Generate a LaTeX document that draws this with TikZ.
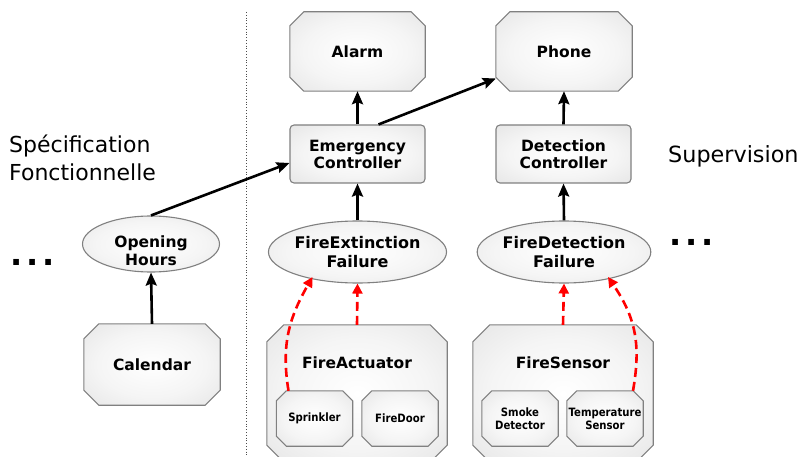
\documentclass[tikz,border=0pt]{standalone}
\usepackage{fontspec}
\setmainfont{DejaVu Sans}
\newfontfamily\smallcond[FakeStretch=0.88]{DejaVu Sans}
\usetikzlibrary{shapes.geometric,arrows.meta,calc}
\pgfdeclarelayer{background}
\pgfsetlayers{background,main}
\pgfdeclareradialshading{soft}{\pgfpoint{0bp}{0bp}}{color(0bp)=(white); color(20bp)=(black!4); color(45bp)=(black!13); color(72bp)=(black!19)}
\newcommand\octopath[2]{($(#1.north west)+(#2,0)$) -- ($(#1.north east)+(-#2,0)$) -- ($(#1.north east)+(0,#2)$) -- ($(#1.south east)+(0,-#2)$) -- ($(#1.south east)+(-#2,0)$) -- ($(#1.south west)+(#2,0)$) -- ($(#1.south west)+(0,-#2)$) -- ($(#1.north west)+(0,#2)$) -- cycle}
\begin{document}
\begin{tikzpicture}[x=1pt,y=-1pt,
  shell/.style={draw=black!50, line width=1.1pt, shading=soft},
  base/.style={inner sep=0pt, align=center, font=\fontsize{15.5}{17}\selectfont\bfseries},
  octo/.style={base, rectangle},
  smocto/.style={octo, minimum width=76pt, minimum height=55pt,
    font=\smallcond\fontsize{11.5}{13}\selectfont\bfseries},
  bigocto/.style={octo, minimum width=180pt, minimum height=137pt},
  rbox/.style={base, shell, rectangle, rounded corners=4pt, minimum width=135pt, minimum height=58pt},
  oval/.style={base, shell, ellipse, font=\fontsize{16}{18.5}\selectfont\bfseries},
  title/.style={inner sep=0pt, font=\fontsize{15.5}{17}\selectfont\bfseries},
  side/.style={inner sep=0pt, align=left, font=\fontsize{22}{28}\selectfont},
  dots/.style={inner sep=0pt, font=\fontsize{32}{32}\selectfont\bfseries},
  arr/.style={line width=2.6pt, -{Stealth[length=13pt,width=11pt,inset=2pt]}},
  redarr/.style={line width=2.6pt, red, dash pattern=on 9pt off 5pt,
    -{Triangle[length=10pt,width=10pt]}}
]
\useasboundingbox (0,0) rectangle (800,457);
\clip (0,0) rectangle (800,457);

% separator
\draw[black!70, line width=0.8pt, dotted] (246,12) -- (246,457);

% side labels
\node[side, anchor=west] (spec) at (9,158) {Spécification\\Fonctionnelle};
\node[side, anchor=base west, font=\fontsize{22.3}{26}\selectfont] (sup) at (668,162.5) {Supervision};
\node[dots, anchor=base west] (ldots) at (10,265) {.\kern4pt.\kern4pt.};
\node[dots, anchor=base west] (rdots) at (669,245) {.\kern4pt.\kern4pt.};

% octagon-shaped nodes (outline drawn on background layer)
\node[octo, minimum width=135pt, minimum height=79pt] (alarm) at (357.5,51.5) {Alarm};
\node[octo, minimum width=136pt, minimum height=79pt] (phone) at (564,51.5) {Phone};
\node[octo, minimum width=136pt, minimum height=81pt] (cal) at (152,364.5) {Calendar};
\node[bigocto] (fa) at (357,393.5) {};
\node[bigocto] (fs) at (563,393.5) {};
\node[title] (fat) at (357,362.5) {FireActuator};
\node[title] (fst) at (563,362.5) {FireSensor};
\node[smocto] (sp) at (314.5,418.5) {Sprinkler};
\node[smocto] (fdoor) at (400,418.5) {FireDoor};
\node[smocto] (sd) at (520,418.5) {Smoke\\Detector};
\node[smocto] (ts) at (605,418.5) {Temperature\\Sensor};

\begin{pgfonlayer}{background}
\path[shell] \octopath{alarm}{14};
\path[shell] \octopath{phone}{14};
\path[shell] \octopath{cal}{15};
\path[shell] \octopath{fa}{17};
\path[shell] \octopath{fs}{17};
\path[shell] \octopath{sp}{10};
\path[shell] \octopath{fdoor}{10};
\path[shell] \octopath{sd}{10};
\path[shell] \octopath{ts}{10};
\end{pgfonlayer}

\node[rbox] (ec) at (357.5,154) {Emergency\\Controller};
\node[rbox] (dc) at (563.5,154) {Detection\\Controller};
\node[oval, minimum width=163pt, minimum height=62pt] (fe) at (357.5,252) {FireExtinction\\Failure};
\node[oval, minimum width=156pt, minimum height=62pt] (fd) at (564,252) {FireDetection\\Failure};
\node[oval, minimum width=137pt, minimum height=56pt, font=\fontsize{15.5}{18}\selectfont\bfseries] (oh) at (151,244)
  {\raisebox{-12pt}[0pt][0pt]{\begin{tabular}{@{}c@{}}Opening\\Hours\end{tabular}}};

% black arrows
\draw[arr] (cal.north) -- (oh.south);
\draw[arr] (oh.north) -- ($(ec.west)+(0,9)$);
\draw[arr] (ec.north) -- (alarm.south);
\draw[arr] ($(ec.north)+(21,0)$) -- ($(phone.west)+(0,27)$);
\draw[arr] (fe.north) -- (ec.south);
\draw[arr] (dc.north) -- (phone.south);
\draw[arr] (fd.north) -- (dc.south);

% red dashed arrows
\draw[redarr] (fa.north) -- (fe.south);
\draw[redarr] (fs.north) -- (fd.south);
\draw[redarr] ($(sp.north)+(-26,0)$) .. controls (281,345) and (289,318) .. ($(fe.center)+(-45,25)$);
\draw[redarr] ($(ts.north)+(28,0)$) .. controls (641,345) and (636,318) .. ($(fd.center)+(44,25)$);
\end{tikzpicture}
\end{document}
